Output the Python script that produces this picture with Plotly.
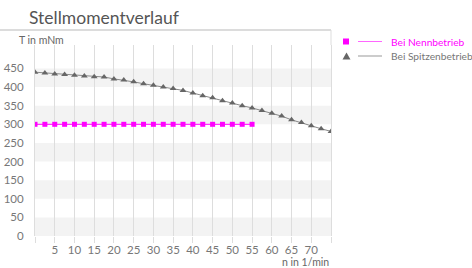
import plotly.graph_objects as go

# ---- data ----
x_nenn = [0, 2.5, 5, 7.5, 10, 12.5, 15, 17.5, 20, 22.5, 25, 27.5, 30, 32.5, 35, 37.5,
          40, 42.5, 45, 47.5, 50, 52.5, 55]
y_nenn = [300] * len(x_nenn)

x_spitze = [0, 2.5, 5, 7.5, 10, 12.5, 15, 17.5, 20, 22.5, 25, 27.5, 30, 32.5, 35, 37.5,
            40, 42.5, 45, 47.5, 50, 52.5, 55, 57.5, 60, 62.5, 65, 67.5, 70, 72.5, 75]
y_spitze = [440, 438, 435, 434, 432, 430, 428, 427, 422, 419, 414, 409, 405, 400, 396, 391,
            384, 377, 371, 363, 357, 350, 344, 337, 330, 322, 312, 305, 296, 288, 281]

x_ticks = [0, 5, 10, 15, 20, 25, 30, 35, 40, 45, 50, 55, 60, 65, 70, 75]
x_ticktext = ["", "5", "10", "15", "20", "25", "30", "35", "40", "45", "50", "55", "60", "65", "70", ""]
y_ticks = [0, 50, 100, 150, 200, 250, 300, 350, 400, 450]
bands = [(0, 50), (100, 150), (200, 250), (300, 350), (400, 450)]

title_text = "Stellmomentverlauf"
y_title = "T in mNm"
x_title = "n in 1/min"
name_nenn = "Bei Nennbetrieb"
name_spitze = "Bei Spitzenbetrieb"

FONT = "Lato"
MAGENTA = "#ff00ff"
GRID = "#dddddd"

W, H = 472, 268
L, R, T, B = 35, 141, 45, 32
PW, PH = W - L - R, H - T - B


def px(xp):
    return (xp - L) / PW


def py(yp):
    return (H - B - yp) / PH


fig = go.Figure()
fig.add_trace(go.Scatter(x=x_spitze, y=y_spitze, mode="lines+markers", name=name_spitze,
                         line=dict(color="#888888", width=1),
                         marker=dict(symbol="triangle-up", size=6, color="#666666")))
fig.add_trace(go.Scatter(x=x_nenn, y=y_nenn, mode="lines+markers", name=name_nenn,
                         line=dict(color=MAGENTA, width=1),
                         marker=dict(symbol="square", size=5, color=MAGENTA)))

shapes = []
for a, b in bands:
    shapes.append(dict(type="rect", xref="paper", yref="y", x0=0, x1=1, y0=a, y1=b,
                       fillcolor="#f3f3f3", line=dict(width=0), layer="below"))
# title underline
shapes.append(dict(type="line", xref="paper", yref="paper", x0=px(0), x1=px(331),
                   y0=py(30), y1=py(30), line=dict(color="#dcdcdc", width=2)))
# right edge extension
shapes.append(dict(type="line", xref="paper", yref="paper", x0=1, x1=1,
                   y0=1, y1=py(30), line=dict(color=GRID, width=1)))
# legend symbols
shapes.append(dict(type="rect", xref="paper", yref="paper", x0=px(343), x1=px(349),
                   y0=py(44.5), y1=py(38.5), fillcolor=MAGENTA, line=dict(width=0)))
shapes.append(dict(type="line", xref="paper", yref="paper", x0=px(358), x1=px(382),
                   y0=py(41.5), y1=py(41.5), line=dict(color="#ff66ff", width=1)))
shapes.append(dict(type="path", xref="paper", yref="paper",
                   path=f"M {px(342.5)} {py(59.5)} L {px(350.5)} {py(59.5)} L {px(346.5)} {py(52.5)} Z",
                   fillcolor="#666666", line=dict(width=0)))
shapes.append(dict(type="line", xref="paper", yref="paper", x0=px(358), x1=px(382),
                   y0=py(56), y1=py(56), line=dict(color="#999999", width=1)))

annotations = [
    dict(text=title_text, xref="paper", yref="paper", x=px(27), y=py(17),
         xanchor="left", yanchor="middle", showarrow=False,
         font=dict(family=FONT, size=17.5, color="#555555")),
    dict(text=y_title, xref="paper", yref="paper", x=px(17), y=py(40),
         xanchor="left", yanchor="middle", showarrow=False,
         font=dict(family=FONT, size=10.5, color="#666666")),
    dict(text=x_title, xref="paper", yref="paper", x=px(331), y=py(262),
         xanchor="right", yanchor="middle", showarrow=False,
         font=dict(family=FONT, size=10.5, color="#666666")),
    dict(text=name_nenn, xref="paper", yref="paper", x=px(389), y=py(41.5),
         xanchor="left", yanchor="middle", showarrow=False,
         font=dict(family=FONT, size=10.2, color=MAGENTA)),
    dict(text=name_spitze, xref="paper", yref="paper", x=px(389), y=py(56),
         xanchor="left", yanchor="middle", showarrow=False,
         font=dict(family=FONT, size=10.2, color="#777777")),
]

fig.update_layout(
    width=W, height=H, margin=dict(l=L, r=R, t=T, b=B, pad=0, autoexpand=False),
    paper_bgcolor="white", plot_bgcolor="white", showlegend=False,
    font=dict(family=FONT, size=12, color="#666666"),
    shapes=shapes, annotations=annotations,
    xaxis=dict(range=[0, 75], tickvals=x_ticks, ticktext=x_ticktext, automargin=False,
               showgrid=True, gridcolor=GRID, gridwidth=1, zeroline=False,
               ticks="outside", ticklen=6, tickcolor=GRID, showline=False,
               ticklabelstandoff=-3,
               tickfont=dict(family=FONT, size=11.5, color="#777777")),
    yaxis=dict(range=[0, 513], tickvals=y_ticks, showgrid=False, zeroline=False,
               automargin=False,
               showline=True, mirror=True, linecolor=GRID, linewidth=1,
               ticks="", ticklabelstandoff=8,
               tickfont=dict(family=FONT, size=11.5, color="#777777")),
)

fig.write_html("out.html", config={"displayModeBar": False},
               post_script="document.body.style.margin='0';")
